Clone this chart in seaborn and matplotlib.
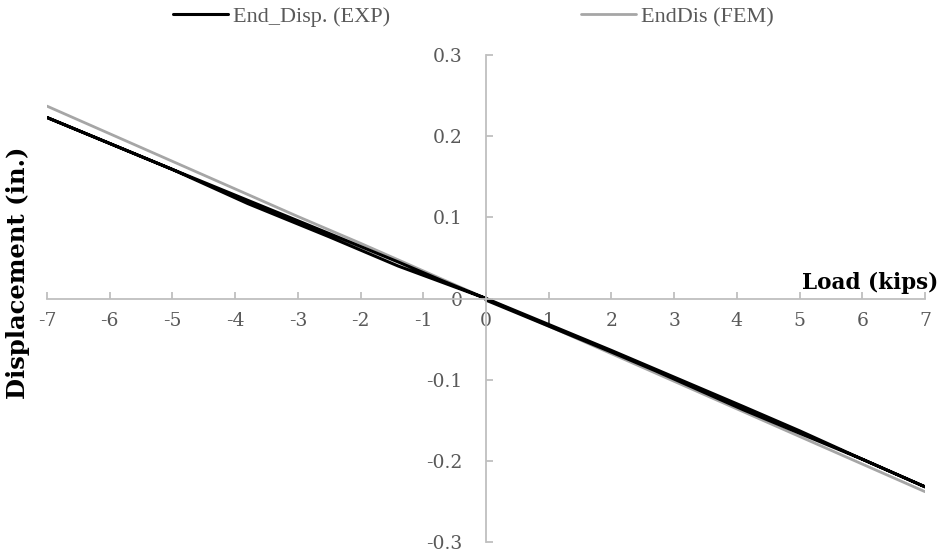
import matplotlib
matplotlib.use("Agg")
import matplotlib.pyplot as plt
import seaborn as sns
import pandas as pd
from matplotlib.lines import Line2D

# ---- data ----
exp_load = [0, -0.7, -1.4, -2.5, -3.8, -5.0, -6.0, -7.0, -6.0, -5.0, -3.8, -2.5, -1.4, -0.7, 0,
            1.0, 2.0, 2.7, 4.1, 5.0, 6.0, 7.0, 6.0, 5.0, 4.1, 2.7, 2.0, 1.0, 0]
exp_disp = [0, 0.022, 0.045, 0.080, 0.121, 0.159, 0.191, 0.223, 0.191, 0.159, 0.117, 0.076, 0.040, 0.020, 0,
            -0.032, -0.064, -0.087, -0.133, -0.163, -0.198, -0.232, -0.198, -0.166, -0.137, -0.089, -0.066, -0.034, -0.002]
fem_load = [-7, -6, -5, -4, -3, -2, -1, 0, 1, 2, 3, 4, 5, 6, 7]
fem_disp = [0.237, 0.203, 0.169, 0.135, 0.101, 0.068, 0.034, 0.0,
            -0.034, -0.068, -0.102, -0.136, -0.170, -0.204, -0.238]
x_ticks = [-7, -6, -5, -4, -3, -2, -1, 0, 1, 2, 3, 4, 5, 6, 7]
x_labels = ["-7", "-6", "-5", "-4", "-3", "-2", "-1", "0", "1", "2", "3", "4", "5", "6", "7"]
y_ticks = [-0.3, -0.2, -0.1, 0, 0.1, 0.2, 0.3]
y_labels = ["-0.3", "-0.2", "-0.1", "0", "0.1", "0.2", "0.3"]
series_names = ["End_Disp. (EXP)", "EndDis (FEM)"]

sns.set_style("white")
plt.rcParams['font.family'] = ['DejaVu Serif']

exp_df = pd.DataFrame({"load": exp_load, "disp": exp_disp})
fem_df = pd.DataFrame({"load": fem_load, "disp": fem_disp})

fig = plt.figure(figsize=(9.4, 5.52), dpi=100)
ax = fig.add_axes([47/940, 1-542/552, (925-47)/940, (542-55)/552])

axis_col = "#BFBFBF"
text_col = "#595959"

sns.lineplot(data=fem_df, x="load", y="disp", sort=False, estimator=None,
             color="#A6A6A6", linewidth=2.0, ax=ax)
sns.lineplot(data=exp_df, x="load", y="disp", sort=False, estimator=None,
             color="#000000", linewidth=2.2, ax=ax)

ax.set_xlim(-7, 7)
ax.set_ylim(-0.3, 0.3)
ax.spines['left'].set_position(('data', 0))
ax.spines['bottom'].set_position(('data', 0))
ax.spines['right'].set_visible(False)
ax.spines['top'].set_visible(False)
for s in ['left', 'bottom']:
    ax.spines[s].set_color(axis_col)
    ax.spines[s].set_linewidth(1.3)

ax.set_xticks(x_ticks)
ax.set_xticklabels(x_labels)
ax.set_yticks(y_ticks)
ax.set_yticklabels(y_labels)
ax.tick_params(axis='x', direction='in', length=5, width=1.3, color=axis_col,
               labelsize=13.5, labelcolor=text_col, pad=10, bottom=True)
ax.tick_params(axis='y', direction='in', length=5, width=1.3, color=axis_col,
               labelsize=13.5, labelcolor=text_col, pad=17, left=True)
ax.set_xlabel("")
ax.set_ylabel("")
ax.grid(False)

fig.text(938/940, 1-283/552, "Load (kips)", ha="right", va="center",
         fontsize=15.5, fontweight="bold", color="black")
fig.text(18/940, 1-273/552, "Displacement (in.)", ha="center", va="center",
         rotation=90, fontsize=17.5, fontweight="bold", color="black")

handles = [Line2D([], [], color="#000000", linewidth=2.2),
           Line2D([], [], color="#A6A6A6", linewidth=2.0)]
leg = fig.legend(handles, series_names, loc="center", bbox_to_anchor=(473/940, 1-17/552),
                 ncol=2, frameon=False, handlelength=2.5, handletextpad=0.2,
                 columnspacing=8.6, prop={"family": "Liberation Serif", "size": 16})
for t in leg.get_texts():
    t.set_color(text_col)

fig.savefig("out.png", dpi=100)
